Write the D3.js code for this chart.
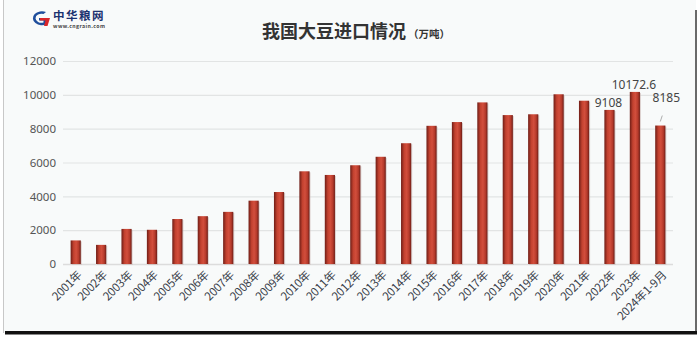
<!DOCTYPE html>
<html>
<head>
<meta charset="utf-8">
<script src="https://cdn.jsdelivr.net/npm/d3@7/dist/d3.min.js"></script>
<style>
  html, body { margin: 0; padding: 0; background: #ffffff; }
  svg { display: block; font-family: "Noto Sans CJK SC", "Noto Sans", sans-serif; }
</style>
</head>
<body>
<svg id="chart" width="700" height="340"></svg>
<script>
// China soybean imports, 10k tonnes
const categories = ["2001年","2002年","2003年","2004年","2005年","2006年","2007年","2008年",
  "2009年","2010年","2011年","2012年","2013年","2014年","2015年","2016年","2017年","2018年",
  "2019年","2020年","2021年","2022年","2023年","2024年1-9月"];
const values = [1394, 1131, 2074, 2023, 2659, 2827, 3082, 3744, 4255, 5480, 5264, 5838,
  6338, 7140, 8169, 8391, 9553, 8803, 8851, 10033, 9652, 9108, 10172.6, 8185];
const labelled = ["2022年", "2023年", "2024年1-9月"];
const yTicks = [0, 2000, 4000, 6000, 8000, 10000, 12000];

const svg = d3.select("#chart");
const W = 700, H = 340;
const m = { left: 63, right: 27, top: 61, bottom: 76 };

// panel with frame and drop shadow
svg.append("rect").attr("x", 3).attr("y", 0).attr("width", 693).attr("height", 333)
  .attr("fill", "#f8fafa");
svg.append("line").attr("x1", 3.5).attr("x2", 3.5).attr("y1", 0).attr("y2", 333)
  .attr("stroke", "#c8c8c8").attr("stroke-width", 1);
svg.append("rect").attr("x", 695).attr("y", 10).attr("width", 2).attr("height", 325)
  .attr("fill", "#6a6a6a");
svg.append("rect").attr("x", 5).attr("y", 331).attr("width", 692).attr("height", 3)
  .attr("fill", "#111");
svg.append("rect").attr("x", 5).attr("y", 334).attr("width", 692).attr("height", 1)
  .attr("fill", "#888");

// logo
const logo = svg.append("g").attr("transform", "translate(29,10)");
logo.append("path").attr("d", "M17,2 A9,7 0 1 0 18,14 L18,8 L10,8 L10,10.5 L14.5,10.5 L14.5,12.5 A6,4.5 0 1 1 14.5,4 Z")
  .attr("fill", "#1f4e9c");
logo.append("path").attr("d", "M11,8 L21,8 L18.5,16 L15,16 L16.5,10.5 L11,10.5 Z").attr("fill", "#d9262b");
logo.append("text").attr("x", 24).attr("y", 10).attr("font-size", 11.5).attr("font-weight", "bold")
  .attr("fill", "#1b3270").attr("letter-spacing", 1.5).text("中华粮网");
logo.append("text").attr("x", 24).attr("y", 17.5).attr("font-size", 5.2).attr("font-weight", "bold")
  .attr("fill", "#444").attr("letter-spacing", 0.4).text("www.cngrain.com");

// title
const title = svg.append("text").attr("x", 356).attr("y", 38).attr("text-anchor", "middle")
  .attr("fill", "#333");
title.append("tspan").attr("font-size", 18).attr("font-weight", "bold").text("我国大豆进口情况");
title.append("tspan").attr("font-size", 10.5).attr("font-weight", "bold").attr("dx", 2).text("（万吨）");

const x = d3.scaleBand().domain(categories).range([m.left, W - m.right]).paddingInner(0.6).paddingOuter(0.3);
const y = d3.scaleLinear().domain([0, 12000]).range([H - m.bottom, m.top]);

// gridlines
svg.append("g").selectAll("line").data(yTicks.filter(d => d > 0)).join("line")
  .attr("x1", m.left).attr("x2", W - m.right)
  .attr("y1", d => y(d) + 0.5).attr("y2", d => y(d) + 0.5)
  .attr("stroke", "#e2e4e4").attr("stroke-width", 1.2);

// y axis labels
const yAxis = svg.append("g").attr("transform", `translate(${m.left},0)`)
  .call(d3.axisLeft(y).tickValues(yTicks).tickFormat(d3.format("d")).tickSize(0).tickPadding(7));
yAxis.select(".domain").remove();
yAxis.selectAll("text").attr("font-size", 11.5).attr("fill", "#555")
  .attr("font-family", "'Noto Sans', sans-serif");

// baseline
svg.append("line").attr("x1", m.left).attr("x2", W - m.right)
  .attr("y1", y(0) + 0.5).attr("y2", y(0) + 0.5).attr("stroke", "#dcdcdc").attr("stroke-width", 1.5);

// bar gradient
const defs = svg.append("defs");
const grad = defs.append("linearGradient").attr("id", "barGrad").attr("x1", 0).attr("x2", 1).attr("y1", 0).attr("y2", 0);
grad.append("stop").attr("offset", "0%").attr("stop-color", "#6e1d16");
grad.append("stop").attr("offset", "30%").attr("stop-color", "#c2412f");
grad.append("stop").attr("offset", "55%").attr("stop-color", "#d24e3c");
grad.append("stop").attr("offset", "80%").attr("stop-color", "#b53a2b");
grad.append("stop").attr("offset", "100%").attr("stop-color", "#6e1d16");

const bars = svg.append("g");
bars.selectAll("rect.shadow").data(categories).join("rect").attr("class", "shadow")
  .attr("x", d => x(d) + 1).attr("y", (d, i) => y(values[i]) + 1)
  .attr("width", x.bandwidth()).attr("height", (d, i) => y(0) - y(values[i]))
  .attr("fill", "#c9b5b2").attr("opacity", 0.6);
bars.selectAll("rect.bar").data(categories).join("rect").attr("class", "bar")
  .attr("x", d => x(d)).attr("y", (d, i) => y(values[i]))
  .attr("width", x.bandwidth()).attr("height", (d, i) => y(0) - y(values[i]))
  .attr("fill", "url(#barGrad)");

// value labels on the last three bars
const lab = svg.append("g").attr("font-size", 12).attr("fill", "#444")
  .attr("font-family", "'Noto Sans', sans-serif").attr("text-anchor", "middle");
categories.forEach((c, i) => {
  if (!labelled.includes(c)) return;
  const cx = x(c) + x.bandwidth() / 2;
  const last = i === categories.length - 1;
  if (last) {
    lab.append("line").attr("x1", cx).attr("x2", cx + 2)
      .attr("y1", y(values[i]) - 4).attr("y2", y(values[i]) - 10)
      .attr("stroke", "#999").attr("stroke-width", 0.8);
    lab.append("text").attr("x", cx + 6).attr("y", y(values[i]) - 24).text(values[i]);
  } else {
    lab.append("text").attr("x", cx - 1).attr("y", y(values[i]) - 3).text(values[i]);
  }
});

// rotated category labels
const xl = svg.append("g").attr("font-size", 11.5).attr("fill", "#3a3f4a")
  .attr("font-family", "'Noto Sans CJK SC', sans-serif");
xl.selectAll("text").data(categories).join("text")
  .attr("transform", d => `translate(${x(d) + x.bandwidth() / 2 + 4},${y(0) + 9}) rotate(-45)`)
  .attr("text-anchor", "end").attr("dy", "0.35em").attr("letter-spacing", -0.2)
  .text(d => d);
</script>
</body>
</html>
